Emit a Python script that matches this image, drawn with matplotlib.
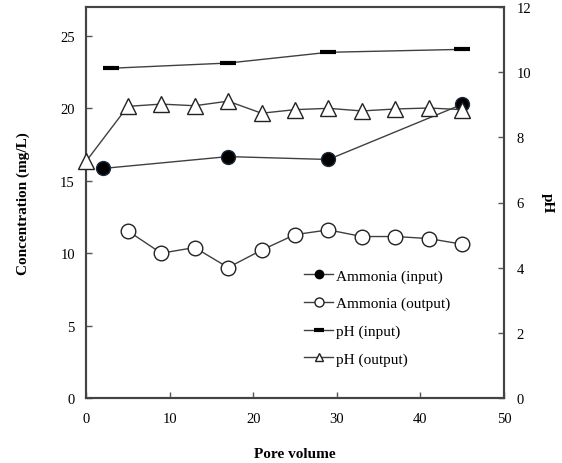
import matplotlib
matplotlib.use("Agg")
import matplotlib.pyplot as plt
from matplotlib.lines import Line2D

plt.rcParams['font.family'] = ['Liberation Serif', 'DejaVu Serif']

# Data
amm_in_x = [2, 17, 29, 45]
amm_in_y = [15.85, 16.67, 16.47, 20.28]
amm_out_x = [5, 9, 13, 17, 21, 25, 29, 33, 37, 41, 45]
amm_out_y = [11.54, 10.0, 10.39, 9.01, 10.21, 11.28, 11.61, 11.15, 11.15, 11.01, 10.62]
ph_in_x = [3, 17, 29, 45]
ph_in_y = [10.12, 10.28, 10.61, 10.70]
ph_out_x = [0, 5, 9, 13, 17, 21, 25, 29, 33, 37, 41, 45]
ph_out_y = [7.26, 8.95, 9.02, 8.97, 9.11, 8.74, 8.85, 8.89, 8.81, 8.87, 8.90, 8.85]

x_ticks = [0, 10, 20, 30, 40, 50]
left_ticks = [0, 5, 10, 15, 20, 25]
right_ticks = [0, 2, 4, 6, 8, 10, 12]

fig = plt.figure(figsize=(5.62, 4.64), dpi=100)
ax = fig.add_axes([86/562, 65/464, (504-86)/562, (399-8)/464])
ax2 = ax.twinx()

lc = '#404040'
l1, = ax.plot(amm_in_x, amm_in_y, color=lc, lw=1, marker='o', ms=10,
              mfc='black', mec='#1a2a3a', mew=1, label='Ammonia (input)', zorder=3,
              clip_on=False)
l2, = ax.plot(amm_out_x, amm_out_y, color=lc, lw=1, marker='o', ms=10.5,
              mfc='white', mec='#222222', mew=1, label='Ammonia (output)', zorder=3,
              clip_on=False)
l3, = ax2.plot(ph_in_x, ph_in_y, color=lc, lw=1, marker='_', ms=12,
               mec='black', mew=3, label='pH (input)', zorder=3, clip_on=False)
l4, = ax2.plot(ph_out_x, ph_out_y, color=lc, lw=1, marker='^', ms=11,
               mfc='white', mec='#222222', mew=1, label='pH (output)', zorder=3,
               clip_on=False)

ax.set_xlim(0, 50)
ax.set_ylim(0, 27)
ax2.set_ylim(0, 12)
ax.set_xticks(x_ticks)
ax.set_yticks(left_ticks)
ax2.set_yticks(right_ticks)

for a in (ax, ax2):
    a.tick_params(direction='in', length=4, width=1, colors='#555555',
                  labelcolor='black', labelsize=10.5)
    for s in a.spines.values():
        s.set_color('#444444')
        s.set_linewidth(1.5)
ax.tick_params(axis='x', pad=10)
ax.tick_params(axis='y', pad=8)
ax2.tick_params(axis='y', pad=9)

ax.set_xlabel('Pore volume', fontsize=11, fontweight='bold', labelpad=16)
ax.set_ylabel('Concentration (mg/L)', fontsize=11, fontweight='bold', labelpad=22)
ax2.set_ylabel('pH', fontsize=11, fontweight='bold', rotation=270, va='center')
ax2.yaxis.set_label_coords(1.103, 0.5)

handles = [
    Line2D([], [], color=lc, lw=1, marker='o', ms=6, mfc='black', mec='black'),
    Line2D([], [], color=lc, lw=1, marker='o', ms=6.5, mfc='white', mec='#222222'),
    Line2D([], [], color=lc, lw=1, marker='_', ms=7, mec='black', mew=3),
    Line2D([], [], color=lc, lw=1, marker='^', ms=6, mfc='white', mec='#222222'),
]
labels = ['Ammonia (input)', 'Ammonia (output)', 'pH (input)', 'pH (output)']
ax2.legend(handles, labels, loc='upper left',
           bbox_to_anchor=(304/562, (464-270)/464), bbox_transform=fig.transFigure,
           frameon=False, fontsize=11, handlelength=1.9, handletextpad=0.2,
           labelspacing=0.9, borderaxespad=0, borderpad=0)

fig.savefig('out.png', dpi=100)
